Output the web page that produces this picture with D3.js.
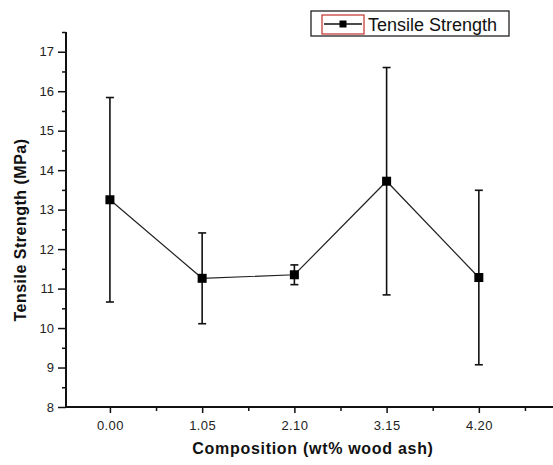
<!DOCTYPE html>
<html>
<head>
<meta charset="utf-8">
<script src="https://cdn.jsdelivr.net/npm/d3@7"></script>
<style>
  html, body { margin: 0; padding: 0; background: #fff; }
  svg { display: block; font-family: "Liberation Sans", Arial, sans-serif; }
</style>
</head>
<body>
<svg id="chart" width="553" height="465"></svg>
<script>
// ---- data ----
const compositions = [0.00, 1.05, 2.10, 3.15, 4.20];
const compositionLabels = ["0.00", "1.05", "2.10", "3.15", "4.20"];
const strengthMeans = [13.25, 11.26, 11.35, 13.72, 11.28];
const strengthErrors = [2.59, 1.15, 0.25, 2.88, 2.21];
const yTickValues = [8, 9, 10, 11, 12, 13, 14, 15, 16, 17];
const seriesName = "Tensile Strength";
const xTitle = "Composition (wt% wood ash)";
const yTitle = "Tensile Strength (MPa)";

const data = compositions.map((c, i) => ({ x: c, y: strengthMeans[i], e: strengthErrors[i] }));

const svg = d3.select("#chart");

const x = d3.scaleLinear().domain([-0.5, 5.05]).range([66, 553.5]);
const y = d3.scaleLinear().domain([8, 17.5]).range([407, 32]);

// minor ticks
const xMinor = compositions.map(c => c + 0.525);
const yMinor = d3.range(8.5, 17.6, 1);

// Y axis
const yAxis = svg.append("g").attr("transform", "translate(66,0)")
  .call(d3.axisLeft(y).tickValues(yTickValues).tickSize(8).tickPadding(4).tickFormat(d3.format("d")));
yAxis.select(".domain").attr("d", `M0,${y(17.5)}V${y(8)}`).attr("stroke", "#111").attr("stroke-width", 2);
yAxis.selectAll(".tick line").attr("stroke", "#111").attr("stroke-width", 1.5);
yAxis.selectAll(".tick text").attr("font-size", 13).attr("fill", "#222").attr("font-family", "Liberation Sans, Arial, sans-serif");
svg.append("g").attr("transform", "translate(66,0)")
  .call(d3.axisLeft(y).tickValues(yMinor).tickSize(4).tickFormat(""))
  .call(g => g.select(".domain").remove())
  .selectAll(".tick line").attr("stroke", "#111").attr("stroke-width", 1.5);

// X axis
const xAxis = svg.append("g").attr("transform", "translate(0,407)")
  .call(d3.axisBottom(x).tickValues(compositions).tickSize(6).tickPadding(8)
    .tickFormat((d, i) => compositionLabels[i]));
xAxis.select(".domain").attr("d", `M65,0H553`).attr("stroke", "#111").attr("stroke-width", 2);
xAxis.selectAll(".tick line").attr("stroke", "#111").attr("stroke-width", 1.5);
xAxis.selectAll(".tick text").attr("font-size", 13).attr("fill", "#222").attr("letter-spacing", 0.4).attr("font-family", "Liberation Sans, Arial, sans-serif");
svg.append("g").attr("transform", "translate(0,407)")
  .call(d3.axisBottom(x).tickValues(xMinor).tickSize(4).tickFormat(""))
  .call(g => g.select(".domain").remove())
  .selectAll(".tick line").attr("stroke", "#111").attr("stroke-width", 1.5);

// error bars
const eb = svg.append("g").attr("stroke", "#111").attr("stroke-width", 1.6).attr("fill", "none");
data.forEach(d => {
  eb.append("line").attr("x1", x(d.x)).attr("x2", x(d.x)).attr("y1", y(d.y + d.e)).attr("y2", y(d.y - d.e));
  eb.append("line").attr("x1", x(d.x) - 4).attr("x2", x(d.x) + 4).attr("y1", y(d.y + d.e)).attr("y2", y(d.y + d.e));
  eb.append("line").attr("x1", x(d.x) - 4).attr("x2", x(d.x) + 4).attr("y1", y(d.y - d.e)).attr("y2", y(d.y - d.e));
});

// line
svg.append("path").datum(data)
  .attr("d", d3.line().x(d => x(d.x)).y(d => y(d.y)))
  .attr("fill", "none").attr("stroke", "#222").attr("stroke-width", 1.2);

// markers
svg.append("g").selectAll("rect").data(data).join("rect")
  .attr("x", d => x(d.x) - 4.5).attr("y", d => y(d.y) - 4.5)
  .attr("width", 9).attr("height", 9).attr("fill", "#000");

// axis titles
svg.append("text").attr("x", 313).attr("y", 454).attr("text-anchor", "middle")
  .attr("font-size", 16).attr("font-weight", "bold").attr("letter-spacing", 0.7).attr("fill", "#111")
  .text(xTitle);
svg.append("text").attr("transform", "translate(26,230) rotate(-90)").attr("text-anchor", "middle")
  .attr("font-size", 16).attr("font-weight", "bold").attr("letter-spacing", 0.5).attr("fill", "#111")
  .text(yTitle);

// legend
const lg = svg.append("g");
lg.append("rect").attr("x", 311).attr("y", 11).attr("width", 198).attr("height", 25)
  .attr("fill", "#fff").attr("stroke", "#222").attr("stroke-width", 1.3);
lg.append("rect").attr("x", 322).attr("y", 15).attr("width", 42).attr("height", 19)
  .attr("fill", "none").attr("stroke", "#c0302a").attr("stroke-width", 1.2);
lg.append("line").attr("x1", 324).attr("x2", 362).attr("y1", 24).attr("y2", 24)
  .attr("stroke", "#111").attr("stroke-width", 1.3);
lg.append("rect").attr("x", 339.5).attr("y", 20.5).attr("width", 7).attr("height", 7).attr("fill", "#000");
lg.append("text").attr("x", 368).attr("y", 30.5).attr("font-size", 18).attr("fill", "#111").text(seriesName);
</script>
</body>
</html>
